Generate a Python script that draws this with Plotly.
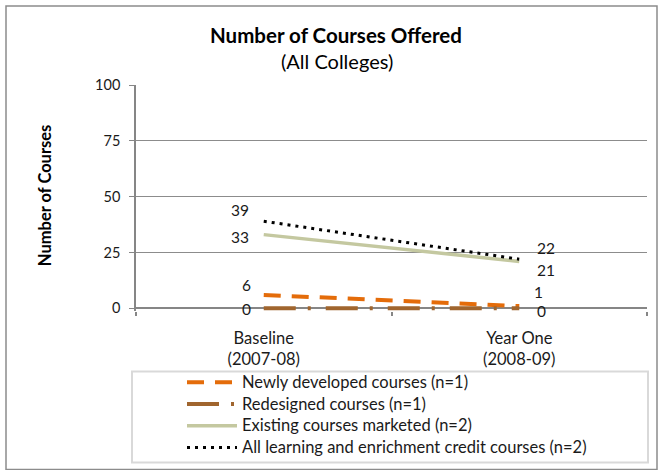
import plotly.graph_objects as go

# Categories and series values
periods = ["Baseline<br>(2007-08)", "Year One<br>(2008-09)"]
newly_developed = [6, 1]
redesigned = [0, 0]
existing_marketed = [33, 21]
all_credit = [39, 22]

series_names = [
    "Newly developed courses (n=1)",
    "Redesigned courses (n=1)",
    "Existing courses marketed (n=2)",
    "All learning and enrichment credit courses (n=2)",
]
y_ticks = [0, 25, 50, 75, 100]

FONT = "Lato"
W, H = 660, 470
Y_MIN = -1.2  # small headroom below zero so the flat series is not clipped
L, R, T = 136, 13, 85
B = 470 - (308 + (-Y_MIN) * 2.23)
PW, PH = W - L - R, H - T - B


def px_x(x):
    return (x - L) / PW


def px_y(y):
    return (H - B - y) / PH


styles = [
    dict(color="#E46C0A", width=4, dash="17px,11px"),
    dict(color="#A0652E", width=4, dash="32px,12px,3px,15px"),
    dict(color="#C4C8A0", width=3.5, dash="solid"),
    dict(color="#000000", width=3, dash="3px,5px"),
]
values = [newly_developed, redesigned, existing_marketed, all_credit]

fig = go.Figure()
for name, vals, st in zip(series_names, values, styles):
    fig.add_trace(go.Scatter(
        x=periods, y=vals, mode="lines",
        # legend rows keep a compact pitch while the entry text is set larger
        name=f'<span style="font-size:16.5px">{name}</span>',
        line=dict(color=st["color"], width=st["width"], dash=st["dash"]),
        hoverinfo="skip",
    ))

# Value labels beside each end point: (series index, point index, xshift, yshift)
label_offsets = [
    (3, 0, -13, 11), (2, 0, -13, -2), (0, 0, -11, 10), (1, 0, -11, -1),
    (3, 1, 16, 11), (2, 1, 16, -9), (0, 1, 13, 14), (1, 1, 16, -3),
]
for si, pi, dx, dy in label_offsets:
    fig.add_annotation(
        x=periods[pi], y=values[si][pi], text=str(values[si][pi]),
        xref="x", yref="y", showarrow=False,
        xanchor="right" if dx < 0 else "left", yanchor="middle",
        xshift=dx, yshift=dy,
        font=dict(family=FONT, size=15.5, color="#1A1A1A"),
    )

# Titles
fig.add_annotation(
    x=px_x(336), y=px_y(35), xref="paper", yref="paper", showarrow=False,
    text="<b>Number of Courses Offered</b>", xanchor="center", yanchor="middle",
    font=dict(family=FONT, size=20.5, color="#000000"),
)
fig.add_annotation(
    x=px_x(337), y=px_y(61), xref="paper", yref="paper", showarrow=False,
    text="(All Colleges)", xanchor="center", yanchor="middle",
    font=dict(family=FONT, size=20, color="#000000"),
)
fig.add_annotation(
    x=px_x(45), y=px_y(195), xref="paper", yref="paper", showarrow=False,
    text="<b>Number of Courses</b>", textangle=-90, xanchor="center", yanchor="middle",
    font=dict(family=FONT, size=16.5, color="#000000"),
)

# Chart border and legend box
fig.add_shape(type="rect", xref="paper", yref="paper",
              x0=px_x(6), x1=px_x(657), y0=px_y(469), y1=px_y(6),
              line=dict(color="#8C8C8C", width=1.5), layer="below")
fig.add_shape(type="rect", xref="paper", yref="paper",
              x0=px_x(132), x1=px_x(648), y0=px_y(462), y1=px_y(371),
              line=dict(color="#D9D9D9", width=2), layer="below")

fig.update_layout(
    width=W, height=H,
    margin=dict(l=L, r=R, t=T, b=B, autoexpand=False),
    paper_bgcolor="white", plot_bgcolor="white",
    font=dict(family=FONT, size=14, color="#1A1A1A"),
    showlegend=True,
    legend=dict(
        x=px_x(182), y=px_y(366), xanchor="left", yanchor="top",
        bgcolor="rgba(0,0,0,0)", borderwidth=0,
        font=dict(family=FONT, size=14.4, color="#1A1A1A"),
        itemwidth=50, tracegroupgap=0,
    ),
    xaxis=dict(
        type="category", range=[-0.5, 1.5],
        showline=False,
        ticks="outside", tickson="boundaries", ticklen=4, tickcolor="#868686",
        tickwidth=1.5,
        showgrid=False, zeroline=False,
        tickfont=dict(family=FONT, size=16.5, color="#1A1A1A"),
        ticklabelstandoff=15,
    ),
    yaxis=dict(
        range=[Y_MIN, 100], tickvals=y_ticks,
        showline=True, linecolor="#868686", linewidth=1.5,
        ticks="outside", ticklen=5, tickcolor="#868686",
        showgrid=True, gridcolor="#8C8C8C", gridwidth=1.3,
        zeroline=True, zerolinecolor="#868686", zerolinewidth=1.5,
        tickfont=dict(family=FONT, size=14.5, color="#1A1A1A"),
        ticklabelstandoff=6,
    ),
)

fig.write_html("out.html")
